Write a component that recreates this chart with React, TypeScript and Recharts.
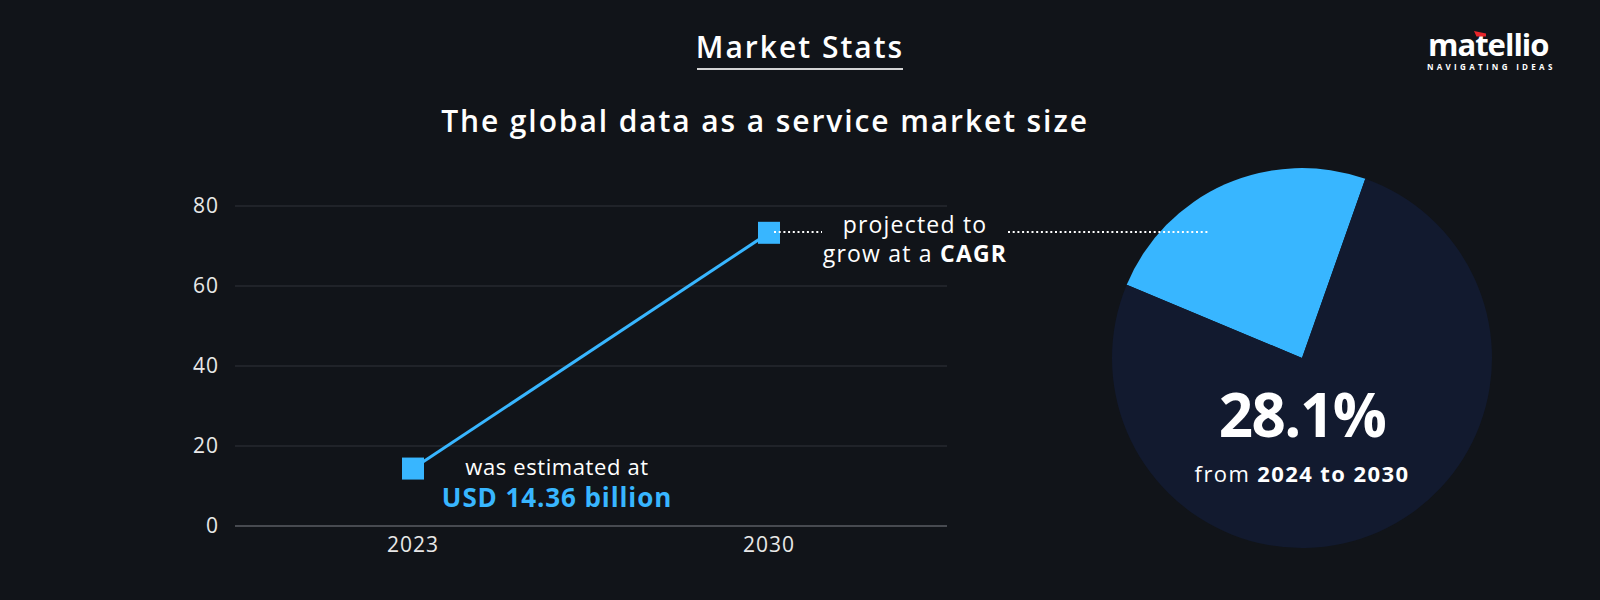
import { LineChart, Line, XAxis, YAxis, CartesianGrid, PieChart, Pie, Cell } from 'recharts'

// market size, USD billion
const years = ['2023', '2030']
const marketSize = [14.36, 73.3]
const yTicks = [0, 20, 40, 60, 80]

// pie slices as drawn (highlighted wedge vs. rest)
const sliceNames = ['CAGR', 'rest']
const sliceValues = [24.1, 75.9]

const BG = '#111419'
const BLUE = '#38b6ff'
const NAVY = '#121a2f'
const FONT = '"Open Sans", "DejaVu Sans", sans-serif'

const lineData = years.map((year, i) => ({ year, value: marketSize[i] }))
const pieData = sliceNames.map((name, i) => ({ name, value: sliceValues[i] }))

function SquareDot(props: any) {
  const { cx, cy, index } = props
  return <rect key={index} x={cx - 11} y={cy - 11} width={22} height={22} fill={BLUE} />
}

const tickStyle = { fill: '#e8e8e8', fontSize: 21, fontFamily: FONT, letterSpacing: 1 }

export default function App() {
  return (
    <div
      style={{
        position: 'absolute',
        left: 0,
        top: 0,
        width: 1600,
        height: 600,
        background: BG,
        fontFamily: FONT,
        overflow: 'hidden',
      }}
    >
      <div style={{ position: 'absolute', left: 0, top: 0 }}>
        <LineChart
          width={1000}
          height={600}
          data={lineData}
          margin={{ top: 206, right: 53, left: 175, bottom: 44 }}
        >
          <CartesianGrid vertical={false} stroke="#30333a" strokeWidth={1} />
          <XAxis
            dataKey="year"
            padding={{ left: 178, right: 178 }}
            axisLine={{ stroke: '#55585e', strokeWidth: 1.5 }}
            tickLine={false}
            tickSize={0}
            tickMargin={11}
            height={30}
            tick={tickStyle}
          />
          <YAxis
            domain={[0, 80]}
            ticks={yTicks}
            width={60}
            axisLine={false}
            tickLine={false}
            tickSize={0}
            tickMargin={16}
            tick={tickStyle}
          />
          <Line
            dataKey="value"
            stroke={BLUE}
            strokeWidth={3}
            dot={SquareDot}
            activeDot={false}
            isAnimationActive={false}
          />
        </LineChart>
      </div>

      <div style={{ position: 'absolute', left: 1092, top: 148 }}>
        <PieChart width={420} height={420} margin={{ top: 0, right: 0, bottom: 0, left: 0 }}>
          <Pie
            data={pieData}
            dataKey="value"
            cx="50%"
            cy="50%"
            outerRadius={190}
            startAngle={157.3}
            endAngle={-202.7}
            stroke="none"
            isAnimationActive={false}
          >
            <Cell fill={BLUE} />
            <Cell fill={NAVY} />
          </Pie>
        </PieChart>
      </div>

      <svg
        width={1600}
        height={600}
        style={{ position: 'absolute', left: 0, top: 0, pointerEvents: 'none' }}
      >
        <text x={800} y={58} textAnchor="middle" fill="#fff" fontSize={30} fontWeight={600} letterSpacing={2}>
          Market Stats
        </text>
        <line x1={697} x2={903} y1={69} y2={69} stroke="#d4d4d4" strokeWidth={2} />
        <text x={765} y={132} textAnchor="middle" fill="#fff" fontSize={30} fontWeight={600} letterSpacing={1.9}>
          The global data as a service market size
        </text>

        {/* logo */}
        <text x={1428} y={56} fill="#fff" fontSize={31} fontWeight={700} letterSpacing={-1}>
          matellio
        </text>
        <polygon points="1474,31 1486,33.5 1486,36.5 1476.5,36.5" fill="#e8262b" />
        <text x={1427} y={70} fill="#fff" fontSize={8} fontWeight={700} letterSpacing={3.3}>
          NAVIGATING IDEAS
        </text>

        {/* annotations */}
        <line x1={774} x2={822} y1={232} y2={232} stroke="#fff" strokeWidth={2} strokeDasharray="2 2.7" />
        <line x1={1008} x2={1210} y1={232} y2={232} stroke="#fff" strokeWidth={2} strokeDasharray="2 2.7" />
        <text x={915} y={233} textAnchor="middle" fill="#fff" fontSize={23} letterSpacing={1.2}>
          projected to
        </text>
        <text x={915} y={261.5} textAnchor="middle" fill="#fff" fontSize={23} letterSpacing={1.2}>
          grow at a <tspan fontWeight={700}>CAGR</tspan>
        </text>
        <text x={557} y={475} textAnchor="middle" fill="#fff" fontSize={22} letterSpacing={0.6}>
          was estimated at
        </text>
        <text x={557} y={507} textAnchor="middle" fill={BLUE} fontSize={26} fontWeight={700} letterSpacing={0.9}>
          USD 14.36 billion
        </text>

        <text x={1302} y={436.5} textAnchor="middle" fill="#fff" fontSize={60} fontWeight={700} letterSpacing={-1.5}>
          28.1%
        </text>
        <text x={1302} y={481.5} textAnchor="middle" fill="#fff" fontSize={22} letterSpacing={1.4}>
          from <tspan fontWeight={700}>2024 to 2030</tspan>
        </text>
      </svg>
    </div>
  )
}
